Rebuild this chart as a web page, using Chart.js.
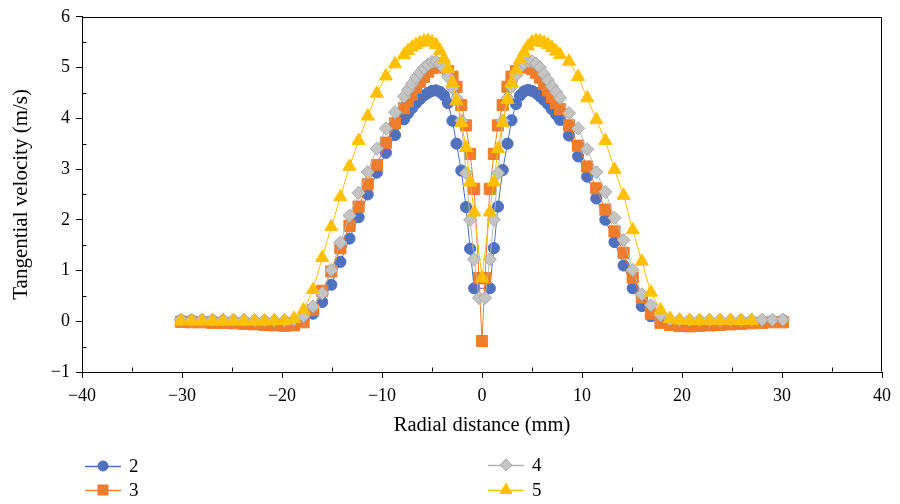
<!DOCTYPE html>
<html>
<head>
<meta charset="utf-8">
<script src="https://cdn.jsdelivr.net/npm/chart.js@4.4.1/dist/chart.umd.min.js"></script>
<style>
html,body{margin:0;padding:0;background:#ffffff;}
#wrap{width:900px;height:504px;position:relative;}
</style>
</head>
<body>
<div id="wrap"><canvas id="c" width="900" height="504"></canvas></div>
<script>
// ---------- data ----------
const radialDistance = [
  -30.1, -29.05, -28.0, -26.95, -25.9, -24.85, -23.8, -22.75, -21.75, -20.75, -19.75, -18.8, -17.85, -16.89,
  -15.98, -15.07, -14.16, -13.25, -12.34, -11.43, -10.52, -9.61, -8.7, -7.8, -7.4, -7.0, -6.6, -6.2,
  -5.8, -5.4, -5.0, -4.6, -4.2, -3.8, -3.4, -2.95, -2.55, -2.07, -1.6, -1.19, -0.78, -0.3,
  0,
  0.3, 0.78, 1.19, 1.6, 2.07, 2.55, 2.95, 3.4, 3.8, 4.2, 4.6, 5.0, 5.4, 5.8,
  6.2, 6.6, 7.0, 7.4, 7.8, 8.7, 9.61, 10.52, 11.43, 12.34, 13.25, 14.16, 15.07, 15.98,
  16.89, 17.85, 18.8, 19.75, 20.75, 21.75, 22.75, 23.8, 24.85, 25.9, 26.95, 28.0, 29.05, 30.1
];

const velocity2 = [
  0.02, 0.02, 0.01, 0.01, 0.0, 0.0, -0.01, -0.02, -0.03, -0.04, -0.05, -0.04, 0.02, 0.15,
  0.38, 0.72, 1.17, 1.63, 2.05, 2.5, 2.93, 3.32, 3.67, 3.98, 4.1, 4.2, 4.3, 4.38,
  4.45, 4.5, 4.54, 4.55, 4.52, 4.45, 4.3, 3.95, 3.5, 2.97, 2.25, 1.43, 0.65, null,
  null,
  null, 0.65, 1.44, 2.26, 2.98, 3.5, 3.96, 4.28, 4.45, 4.53, 4.56, 4.54, 4.5, 4.43,
  4.36, 4.28, 4.18, 4.08, 3.97, 3.66, 3.25, 2.85, 2.42, 2.0, 1.56, 1.1, 0.65, 0.3,
  0.1, -0.02, -0.06, -0.07, -0.07, -0.06, -0.05, -0.04, -0.03, -0.02, -0.01, 0.0, 0.01, 0.02
];

const velocity3 = [
  -0.01, -0.02, -0.02, -0.03, -0.03, -0.04, -0.05, -0.06, -0.07, -0.08, -0.09, -0.08, -0.02, 0.22,
  0.6, 0.98, 1.44, 1.88, 2.26, 2.7, 3.08, 3.52, 3.9, 4.2, 4.34, 4.47, 4.6, 4.72,
  4.82, 4.92, 4.99, 5.03, 5.03, 5.0, 4.93, 4.82, 4.62, 4.26, 3.86, 3.3, 2.61, 0.85,
  -0.39,
  0.85, 2.61, 3.3, 3.86, 4.26, 4.62, 4.82, 4.93, 5.0, 5.03, 5.02, 4.97, 4.9, 4.8,
  4.68, 4.55, 4.42, 4.3, 4.18, 3.86, 3.46, 3.05, 2.62, 2.2, 1.77, 1.35, 0.86, 0.47,
  0.15, -0.03, -0.07, -0.09, -0.1, -0.09, -0.08, -0.07, -0.06, -0.05, -0.04, -0.03, -0.02, -0.02
];

const velocity4 = [
  0.03, 0.03, 0.03, 0.03, 0.03, 0.03, 0.03, 0.02, 0.02, 0.02, 0.02, 0.04, 0.1, 0.29,
  0.55, 1.01, 1.55, 2.08, 2.53, 2.94, 3.4, 3.8, 4.12, 4.43, 4.56, 4.68, 4.8, 4.9,
  4.99, 5.06, 5.11, 5.12, 5.08, 4.98, 4.82, 4.6, 4.4, 3.95, 2.92, 2.0, 1.22, 0.46,
  null,
  0.46, 1.22, 2.0, 2.92, 3.95, 4.4, 4.62, 4.85, 5.0, 5.08, 5.12, 5.12, 5.08, 5.0,
  4.87, 4.75, 4.63, 4.52, 4.4, 4.1, 3.8, 3.39, 2.94, 2.55, 2.04, 1.6, 1.01, 0.53,
  0.32, 0.12, 0.04, 0.03, 0.03, 0.03, 0.03, 0.03, 0.03, 0.03, 0.03, 0.03, 0.03, 0.03
];

const velocity5 = [
  0.0, 0.0, 0.0, 0.0, 0.0, 0.0, 0.0, 0.0, 0.0, 0.01, 0.01, 0.05, 0.22, 0.62,
  1.25, 1.86, 2.45, 3.05, 3.56, 4.04, 4.49, 4.83, 5.07, 5.25, 5.33, 5.4, 5.45, 5.49,
  5.52, 5.53, 5.5, 5.45, 5.33, 5.17, 4.98, 4.7, 4.34, 3.91, 3.42, 2.74, 2.15, null,
  0.85,
  null, 2.15, 2.74, 3.4, 3.91, 4.37, 4.7, 4.95, 5.15, 5.3, 5.42, 5.5, 5.53, 5.52,
  5.49, 5.45, 5.39, 5.32, 5.25, 5.12, 4.82, 4.4, 3.97, 3.56, 2.99, 2.48, 1.8, 1.18,
  0.57, 0.22, 0.05, 0.02, 0.01, 0.01, 0.01, 0.01, 0.01, 0.01, 0.01, null, null, null
];

const seriesNames = ['2', '3', '4', '5'];
const xMinorTicks = [-35, -25, -15, -5, 5, 15, 25, 35];
const yMinorTicks = [-0.5, 0.5, 1.5, 2.5, 3.5, 4.5, 5.5];

// ---------- styling ----------
const FONT = 'Liberation Serif, Times New Roman, serif';
const styles = [
  {line: '#4472c4', fill: '#5071bd', stroke: '#5071bd', shape: 'circle', r: 5.6, order: 4},
  {line: '#ed7d31', fill: '#ef7d2c', stroke: '#ef7d2c', shape: 'rect', r: 7.9, order: 3},
  {line: '#b4b4b4', fill: '#c4c4c4', stroke: '#a9a9a9', shape: 'rectRot', r: 6.6, order: 2},
  {line: '#ffc000', fill: '#ffc000', stroke: '#ffc000', shape: 'triangle', r: 7.6, order: 1}
];
const allSeries = [velocity2, velocity3, velocity4, velocity5];

const datasets = allSeries.map((vals, i) => ({
  label: seriesNames[i],
  data: radialDistance.map((x, k) => ({x: x, y: vals[k]})),
  borderColor: styles[i].line,
  borderWidth: 1,
  backgroundColor: styles[i].fill,
  pointBackgroundColor: styles[i].fill,
  pointBorderColor: styles[i].stroke,
  pointBorderWidth: 1,
  pointStyle: styles[i].shape,
  pointRadius: styles[i].r,
  pointHoverRadius: styles[i].r,
  spanGaps: true,
  tension: 0,
  fill: false,
  order: styles[i].order
}));

function minusFmt(v) {
  return v < 0 ? '\u2212' + Math.abs(v) : String(v);
}

function drawMarker(ctx, shape, x, y, r, fill, stroke) {
  ctx.beginPath();
  if (shape === 'circle') {
    ctx.arc(x, y, r, 0, Math.PI * 2);
  } else if (shape === 'rect') {
    const s = r * Math.SQRT1_2;
    ctx.rect(x - s, y - s, 2 * s, 2 * s);
  } else if (shape === 'rectRot') {
    ctx.moveTo(x - r, y); ctx.lineTo(x, y - r); ctx.lineTo(x + r, y); ctx.lineTo(x, y + r); ctx.closePath();
  } else if (shape === 'triangle') {
    for (let k = 0; k < 3; k++) {
      const a = k * 2 * Math.PI / 3;
      const px = x + Math.sin(a) * r, py = y - Math.cos(a) * r;
      if (k === 0) ctx.moveTo(px, py); else ctx.lineTo(px, py);
    }
    ctx.closePath();
  }
  ctx.fillStyle = fill; ctx.fill();
  ctx.strokeStyle = stroke; ctx.lineWidth = 1; ctx.stroke();
}

const framePlugin = {
  id: 'frame',
  afterDraw(chart) {
    const {ctx, chartArea: ca, scales} = chart;
    ctx.save();
    ctx.strokeStyle = '#000'; ctx.lineWidth = 1;
    const L = Math.round(ca.left) + 0.5, R = Math.round(ca.right) - 0.5;
    const T = Math.round(ca.top) + 0.5, B = Math.round(ca.bottom) - 0.5;
    ctx.beginPath();
    ctx.moveTo(L, T); ctx.lineTo(R, T); ctx.lineTo(R, B);
    ctx.stroke();
    // minor ticks (inside)
    ctx.beginPath();
    xMinorTicks.forEach(v => {
      const px = Math.round(scales.x.getPixelForValue(v)) + 0.5;
      ctx.moveTo(px, B); ctx.lineTo(px, B - 4);
    });
    yMinorTicks.forEach(v => {
      const py = Math.round(scales.y.getPixelForValue(v)) + 0.5;
      ctx.moveTo(L, py); ctx.lineTo(L + 4, py);
    });
    ctx.stroke();

    // legend (two columns)
    const pos = [
      {x: 85, y: 466}, {x: 85, y: 490}, {x: 488, y: 465}, {x: 488, y: 490}
    ];
    ctx.font = '19px ' + FONT;
    ctx.textBaseline = 'middle';
    ctx.textAlign = 'left';
    seriesNames.forEach((name, i) => {
      const p = pos[i], st = styles[i];
      ctx.beginPath();
      ctx.strokeStyle = st.line; ctx.lineWidth = 1.5;
      ctx.moveTo(p.x, p.y + 0.5); ctx.lineTo(p.x + 36, p.y + 0.5);
      ctx.stroke();
      drawMarker(ctx, st.shape, p.x + 18, p.y, st.r * 0.9, st.fill, st.stroke);
      ctx.fillStyle = '#000';
      ctx.fillText(name, p.x + 44, p.y + 1);
    });
    ctx.restore();
  }
};

new Chart(document.getElementById('c'), {
  type: 'line',
  data: {datasets: datasets},
  options: {
    responsive: false,
    animation: false,
    events: [],
    layout: {padding: {top: 14, right: 18, left: 0, bottom: 0}},
    plugins: {legend: {display: false}, tooltip: {enabled: false}},
    scales: {
      x: {
        type: 'linear', min: -40, max: 40,
        afterFit(s) { s.height = 132; },
        ticks: {stepSize: 10, autoSkip: false, maxRotation: 0, color: '#000', padding: 7,
                font: {family: FONT, size: 18}, callback: minusFmt},
        grid: {display: true, drawOnChartArea: false, drawTicks: true, tickLength: 6, color: '#000', lineWidth: 1},
        border: {display: true, color: '#000', width: 1},
        title: {display: true, text: 'Radial distance (mm)', color: '#000',
                font: {family: FONT, size: 20.5}, padding: {top: 0, bottom: 66}}
      },
      y: {
        min: -1, max: 6,
        afterFit(s) { s.width = 82; },
        ticks: {stepSize: 1, autoSkip: false, color: '#000', padding: 6,
                font: {family: FONT, size: 18}, callback: minusFmt},
        grid: {display: true, drawOnChartArea: false, drawTicks: true, tickLength: 6, color: '#000', lineWidth: 1},
        border: {display: true, color: '#000', width: 1},
        title: {display: true, text: 'Tangential velocity (m/s)', color: '#000',
                font: {family: FONT, size: 21}, padding: {top: 9, bottom: 0}}
      }
    }
  },
  plugins: [framePlugin]
});
</script>
</body>
</html>
